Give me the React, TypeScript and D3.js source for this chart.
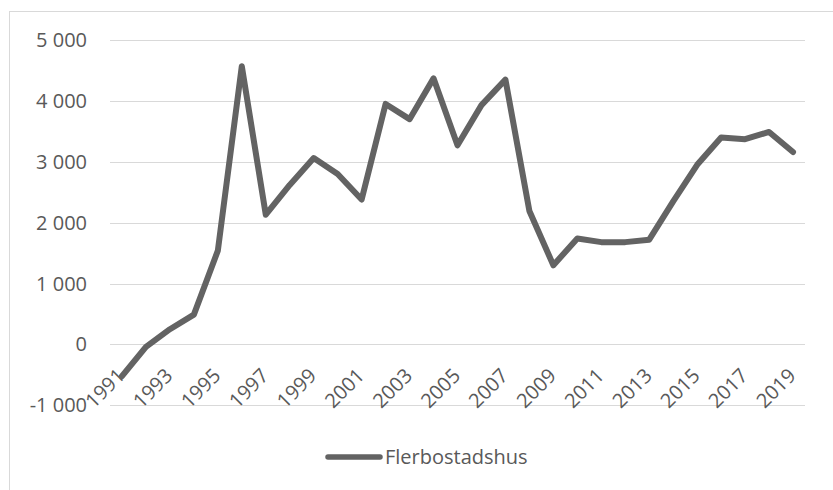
import React, { useEffect, useRef } from "react";
import * as d3 from "d3";

const years = d3.range(1991, 2020).map(String);
const values = [
  -520, -40, 250, 490, 1540, 4570, 2130, 2620, 3060, 2800, 2380, 3950, 3700,
  4370, 3270, 3930, 4350, 2190, 1300, 1740, 1680, 1680, 1720, 2350, 2950,
  3400, 3370, 3490, 3160,
];
const yTicks = [-1000, 0, 1000, 2000, 3000, 4000, 5000];
const seriesName = "Flerbostadshus";

const W = 833;
const H = 490;
const font = "'Open Sans', sans-serif";
const textColor = "#595959";

const App = () => {
  const ref = useRef<SVGSVGElement>(null);

  useEffect(() => {
    const svg = d3.select(ref.current);
    svg.selectAll("*").remove();

    const x = d3.scaleBand().domain(years).range([110, 805]);
    const y = d3.scaleLinear().domain([-1000, 5000]).range([405.3, 40]);

    // chart frame
    svg.append("rect")
      .attr("x", 9.5).attr("y", 11.5)
      .attr("width", 1000).attr("height", 1000)
      .attr("fill", "white").attr("stroke", "#d9d9d9");

    // gridlines
    svg.append("g").selectAll("line").data(yTicks).join("line")
      .attr("x1", 110).attr("x2", 805)
      .attr("y1", d => Math.round(y(d)) + 0.5)
      .attr("y2", d => Math.round(y(d)) + 0.5)
      .attr("stroke", "#d9d9d9").attr("stroke-width", 1);

    const fmt = (v: number) => d3.format(",")(v).replace(/,/g, " ").replace("−", "-");

    svg.append("g").selectAll("text").data(yTicks).join("text")
      .attr("x", 87).attr("y", d => y(d))
      .attr("dy", "0.35em")
      .attr("text-anchor", "end")
      .attr("font-family", font).attr("font-size", 20)
      .attr("fill", textColor)
      .text(d => fmt(d));

    // x labels
    svg.append("g").selectAll("text").data(years.filter((_, i) => i % 2 === 0)).join("text")
      .attr("transform", d => `translate(${x(d)! + x.bandwidth() / 2 + 4},377) rotate(-45)`)
      .attr("text-anchor", "end")
      .attr("font-family", font).attr("font-size", 20)
      .attr("fill", textColor)
      .text(d => d);

    const line = d3.line<number>()
      .x((_, i) => x(years[i])! + x.bandwidth() / 2)
      .y(d => y(d));

    svg.append("path")
      .datum(values)
      .attr("d", line)
      .attr("fill", "none")
      .attr("stroke", "#636363")
      .attr("stroke-width", 6)
      .attr("stroke-linejoin", "round")
      .attr("stroke-linecap", "round");

    // legend
    const lg = svg.append("g").attr("transform", "translate(328,457)");
    lg.append("line").attr("x1", 0).attr("x2", 52)
      .attr("stroke", "#636363").attr("stroke-width", 5.5).attr("stroke-linecap", "round");
    lg.append("text").attr("x", 57).attr("dy", "0.35em")
      .attr("font-family", font).attr("font-size", 20)
      .attr("fill", textColor).text(seriesName);
  }, []);

  return (
    <div style={{ position: "fixed", left: 0, top: 0 }}>
      <svg ref={ref} width={W} height={H} style={{ display: "block" }} />
    </div>
  );
};

export default App;
